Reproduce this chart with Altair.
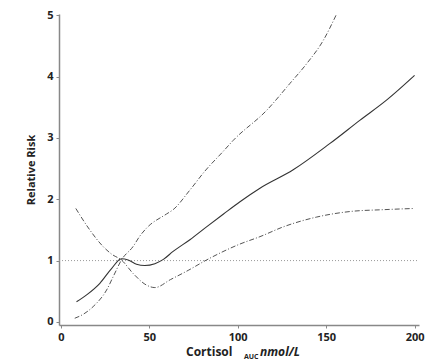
import altair as alt
import pandas as pd

# Main estimate (solid)
main_x = [8.9, 15, 22.1, 28.7, 34.3, 38.1, 42.8, 47.5, 53.2, 58, 63.5, 73, 82.4, 92, 101.3, 112.6, 131.4, 152.2, 169.2, 184.3, 200]
main_y = [0.33, 0.45, 0.63, 0.87, 1.03, 1.01, 0.94, 0.92, 0.95, 1.02, 1.15, 1.34, 1.55, 1.76, 1.96, 2.18, 2.48, 2.91, 3.29, 3.62, 4.02]

# Confidence band line A (starts low, rises steeply)
ca_x = [7.9, 13, 18.3, 25.9, 30, 34.3, 40.9, 44.7, 48.5, 59.8, 63.5, 73, 81.5, 91.8, 97.5, 116.4, 129.6, 139, 148.4, 155.6]
ca_y = [0.06, 0.13, 0.25, 0.52, 0.76, 1.01, 1.23, 1.4, 1.53, 1.76, 1.83, 2.15, 2.46, 2.78, 2.96, 3.45, 3.89, 4.21, 4.59, 5.0]

# Confidence band line B (starts high, dips, rises slowly)
cb_x = [8.5, 16.4, 23.9, 29, 34.3, 40.9, 48.5, 53.2, 62, 72, 82.4, 101.3, 112.6, 125.8, 144.7, 163.5, 182.3, 200]
cb_y = [1.85, 1.5, 1.23, 1.1, 1.01, 0.79, 0.6, 0.56, 0.69, 0.84, 1.01, 1.27, 1.39, 1.55, 1.71, 1.80, 1.83, 1.85]

x_ticks = [0, 50, 100, 150, 200]
y_ticks = [0, 1, 2, 3, 4, 5]
ref_x = [-1, 202.5]
ref_y = [1, 1]

main_df = pd.DataFrame({"x": main_x, "y": main_y})
ca_df = pd.DataFrame({"x": ca_x, "y": ca_y})
cb_df = pd.DataFrame({"x": cb_x, "y": cb_y})
ref_df = pd.DataFrame({"x": ref_x, "y": ref_y})

xs = alt.Scale(domain=[-1, 202.5], nice=False, zero=False)
ys = alt.Scale(domain=[-0.05, 5.02], nice=False, zero=False)

xenc = alt.X("x:Q", scale=xs, axis=alt.Axis(values=x_ticks, title=None, grid=False, format="d"))
yenc = alt.Y("y:Q", scale=ys, axis=alt.Axis(values=y_ticks, title="Relative Risk", grid=False, format="d",
                                              titlePadding=10))

ref = alt.Chart(ref_df).mark_line(color="#999999", strokeWidth=1, strokeDash=[1, 2]).encode(x=xenc, y=yenc)
main = alt.Chart(main_df).mark_line(color="#333333", strokeWidth=1.1, interpolate="monotone").encode(x=xenc, y=yenc)
ca = alt.Chart(ca_df).mark_line(color="#555555", strokeWidth=1, strokeDash=[5, 2, 1, 2], interpolate="monotone").encode(x=xenc, y=yenc)
cb = alt.Chart(cb_df).mark_line(color="#555555", strokeWidth=1, strokeDash=[5, 2, 1, 2], interpolate="monotone").encode(x=xenc, y=yenc)

t1 = alt.Chart(pd.DataFrame({"t": ["Cortisol"]})).mark_text(
    align="left", baseline="alphabetic", font="Open Sans", fontWeight="bold", fontSize=12, color="#222"
).encode(text="t:N", x=alt.value(127), y=alt.value(342))
t2 = alt.Chart(pd.DataFrame({"t": ["AUC"]})).mark_text(
    align="left", baseline="alphabetic", font="Open Sans", fontWeight="bold", fontSize=7, color="#222"
).encode(text="t:N", x=alt.value(185), y=alt.value(345))
t3 = alt.Chart(pd.DataFrame({"t": ["nmol/L"]})).mark_text(
    align="left", baseline="alphabetic", font="Open Sans", fontWeight="bold", fontStyle="italic", fontSize=12, color="#222"
).encode(text="t:N", x=alt.value(201), y=alt.value(342))

chart = alt.layer(ref, cb, ca, main, t1, t2, t3).properties(
    width=360, height=311,
    autosize=alt.AutoSizeParams(type="none"),
    padding={"left": 51, "top": 6, "right": 10, "bottom": 40},
).configure_view(stroke=None).configure_axis(
    domainColor="#888888", domainWidth=1.5, tickColor="#888888", tickSize=3,
    labelFont="Open Sans", labelFontWeight="bold", labelFontSize=11, labelColor="#222",
    titleFont="Open Sans", titleFontWeight="bold", titleFontSize=11, titleColor="#222",
    labelPadding=3,
)

chart.save("out.html", embed_options={"renderer": "svg", "actions": False})
